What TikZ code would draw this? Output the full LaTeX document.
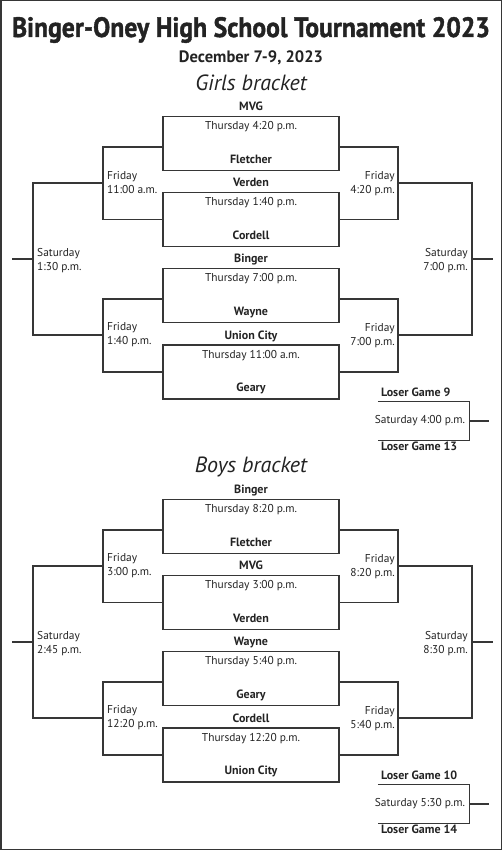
\documentclass[tikz,border=0pt]{standalone}
\usepackage{fontspec}
\setmainfont{PT Sans}
\newfontfamily\headfont{PT Sans Bold}[FakeBold=1.4]
\usepackage{tikz}
\usetikzlibrary{positioning,calc}
\definecolor{inkgray}{HTML}{232323}
\definecolor{linegray}{HTML}{363636}

\begin{document}
\begin{tikzpicture}[x=1pt,y=-1pt,
  every node/.style={font=\fontsize{11.4}{14}\selectfont,text=inkgray,inner sep=0pt},
  gamebox/.style={rectangle,draw=linegray,line width=1.2pt,minimum width=176pt,minimum height=54pt},
  team/.style={font=\fontsize{12}{14}\selectfont\bfseries,anchor=base},
  slot/.style={align=left,anchor=west},
  slotr/.style={align=right,anchor=east},
  loserbox/.style={rectangle,minimum width=91pt,minimum height=39pt},
  wire/.style={draw=linegray,line width=1.2pt}
]
\useasboundingbox (0,0) rectangle (502,850);
\draw[line width=1.5pt,draw=linegray] (0.75,0.75) rectangle (501.25,849.25);

% headings
\node[anchor=base] (title) at (251,37) {\resizebox{478pt}{20pt}{\headfont Binger-Oney High School Tournament 2023}};
\node[anchor=base,font=\fontsize{16.5}{19}\selectfont\bfseries] (date) at (251,63) {December 7-9, 2023};
\node[anchor=base,font=\fontsize{22}{25}\selectfont\itshape] (girls) at (251,91) {Girls bracket};
\node[anchor=base,font=\fontsize{22}{25}\selectfont\itshape] (boys) at (251,472) {Boys bracket};

% girls: first round
\node[gamebox] (gg1) at (251,143.5) {};
\node[gamebox] (gg2) at (251,219.5) {};
\node[gamebox] (gg3) at (251,295.5) {};
\node[gamebox] (gg4) at (251,372) {};
\node[anchor=base] (gt1) at ([yshift=-14pt]gg1.north) {Thursday 4:20 p.m.};
\node[anchor=base] (gt2) at ([yshift=-14pt]gg2.north) {Thursday 1:40 p.m.};
\node[anchor=base] (gt3) at ([yshift=-14pt]gg3.north) {Thursday 7:00 p.m.};
\node[anchor=base] (gt4) at ([yshift=-14pt]gg4.north) {Thursday 11:00 a.m.};
\node[team] (ga1) at ([yshift=5pt]gg1.north) {MVG};
\node[team] (gb1) at ([yshift=8pt]gg1.south) {Fletcher};
\node[team] (ga2) at ([yshift=5pt]gg2.north) {Verden};
\node[team] (gb2) at ([yshift=8pt]gg2.south) {Cordell};
\node[team] (ga3) at ([yshift=5pt]gg3.north) {Binger};
\node[team] (gb3) at ([yshift=8pt]gg3.south) {Wayne};
\node[team] (ga4) at ([yshift=5pt]gg4.north) {Union City};
\node[team] (gb4) at ([yshift=8pt]gg4.south) {Geary};

% girls: later rounds
\coordinate (gfl1) at (103,183);
\coordinate (gfl2) at (103,335);
\coordinate (gsl) at (33,259);
\coordinate (gslo) at (12,259);
\coordinate (gfr1) at (398,183);
\coordinate (gfr2) at (398,335);
\coordinate (gsr) at (472,259);
\coordinate (gsro) at (493,259);
\draw[wire] ([yshift=-3.5pt]gg1.west) -| (gfl1) |- (gg2.west);
\draw[wire] ([yshift=-3.5pt]gg3.west) -| (gfl2) |- (gg4.west);
\draw[wire] (gfl1) -| (gsl) |- (gfl2);
\draw[wire] (gsl) -- (gslo);
\draw[wire] ([yshift=-3.5pt]gg1.east) -| (gfr1) |- (gg2.east);
\draw[wire] ([yshift=-3.5pt]gg3.east) -| (gfr2) |- (gg4.east);
\draw[wire] (gfr1) -| (gsr) |- (gfr2);
\draw[wire] (gsr) -- (gsro);
\node[slot] (gfd1) at ([xshift=4pt]gfl1) {Friday\\11:00 a.m.};
\node[slot] (gfd2) at ([xshift=4pt]gfl2) {Friday\\1:40 p.m.};
\node[slot] (gsd) at ([xshift=4pt,yshift=-2pt]gsl) {Saturday\\1:30 p.m.};
\node[slotr] (gfe1) at ([xshift=-3pt,yshift=-1pt]gfr1) {Friday\\4:20 p.m.};
\node[slotr] (gfe2) at ([xshift=-3pt,yshift=-1pt]gfr2) {Friday\\7:00 p.m.};
\node[slotr] (gse) at ([xshift=-4pt,yshift=-2pt]gsr) {Saturday\\7:00 p.m.};

% girls: losers
\node[loserbox] (glg) at (423.5,421) {};
\coordinate (glgo) at (489,421);
\draw[wire] (glg.north west) -- (glg.north east) -- (glg.south east) -- (glg.south west);
\draw[wire] (glg.east) -- (glgo);
\node[anchor=east] (glt) at ([xshift=-4pt]glg.east) {Saturday 4:00 p.m.};
\node[team,anchor=base west] (glw1) at ([xshift=3pt,yshift=5pt]glg.north west) {Loser Game 9};
\node[team,anchor=base west] (glw2) at ([xshift=3pt,yshift=-10pt]glg.south west) {Loser Game 13};

% boys: first round
\node[gamebox] (bg1) at (251,526.5) {};
\node[gamebox] (bg2) at (251,602.5) {};
\node[gamebox] (bg3) at (251,678.5) {};
\node[gamebox] (bg4) at (251,755) {};
\node[anchor=base] (bt1) at ([yshift=-14pt]bg1.north) {Thursday 8:20 p.m.};
\node[anchor=base] (bt2) at ([yshift=-14pt]bg2.north) {Thursday 3:00 p.m.};
\node[anchor=base] (bt3) at ([yshift=-14pt]bg3.north) {Thursday 5:40 p.m.};
\node[anchor=base] (bt4) at ([yshift=-14pt]bg4.north) {Thursday 12:20 p.m.};
\node[team] (ba1) at ([yshift=5pt]bg1.north) {Binger};
\node[team] (bb1) at ([yshift=8pt]bg1.south) {Fletcher};
\node[team] (ba2) at ([yshift=5pt]bg2.north) {MVG};
\node[team] (bb2) at ([yshift=8pt]bg2.south) {Verden};
\node[team] (ba3) at ([yshift=5pt]bg3.north) {Wayne};
\node[team] (bb3) at ([yshift=8pt]bg3.south) {Geary};
\node[team] (ba4) at ([yshift=5pt]bg4.north) {Cordell};
\node[team] (bb4) at ([yshift=8pt]bg4.south) {Union City};

% boys: later rounds
\coordinate (bfl1) at (103,566);
\coordinate (bfl2) at (103,718);
\coordinate (bsl) at (33,642);
\coordinate (bslo) at (12,642);
\coordinate (bfr1) at (398,566);
\coordinate (bfr2) at (398,718);
\coordinate (bsr) at (472,642);
\coordinate (bsro) at (493,642);
\draw[wire] ([yshift=-3.5pt]bg1.west) -| (bfl1) |- (bg2.west);
\draw[wire] ([yshift=-3.5pt]bg3.west) -| (bfl2) |- (bg4.west);
\draw[wire] (bfl1) -| (bsl) |- (bfl2);
\draw[wire] (bsl) -- (bslo);
\draw[wire] ([yshift=-3.5pt]bg1.east) -| (bfr1) |- (bg2.east);
\draw[wire] ([yshift=-3.5pt]bg3.east) -| (bfr2) |- (bg4.east);
\draw[wire] (bfr1) -| (bsr) |- (bfr2);
\draw[wire] (bsr) -- (bsro);
\node[slot] (bfd1) at ([xshift=4pt]bfl1) {Friday\\3:00 p.m.};
\node[slot] (bfd2) at ([xshift=4pt]bfl2) {Friday\\12:20 p.m.};
\node[slot] (bsd) at ([xshift=4pt,yshift=-2pt]bsl) {Saturday\\2:45 p.m.};
\node[slotr] (bfe1) at ([xshift=-3pt,yshift=-1pt]bfr1) {Friday\\8:20 p.m.};
\node[slotr] (bfe2) at ([xshift=-3pt,yshift=-1pt]bfr2) {Friday\\5:40 p.m.};
\node[slotr] (bse) at ([xshift=-4pt,yshift=-2pt]bsr) {Saturday\\8:30 p.m.};

% boys: losers
\node[loserbox] (blg) at (423.5,804) {};
\coordinate (blgo) at (489,804);
\draw[wire] (blg.north west) -- (blg.north east) -- (blg.south east) -- (blg.south west);
\draw[wire] (blg.east) -- (blgo);
\node[anchor=east] (blt) at ([xshift=-4pt]blg.east) {Saturday 5:30 p.m.};
\node[team,anchor=base west] (blw1) at ([xshift=3pt,yshift=5pt]blg.north west) {Loser Game 10};
\node[team,anchor=base west] (blw2) at ([xshift=3pt,yshift=-10pt]blg.south west) {Loser Game 14};
\end{tikzpicture}
\end{document}
